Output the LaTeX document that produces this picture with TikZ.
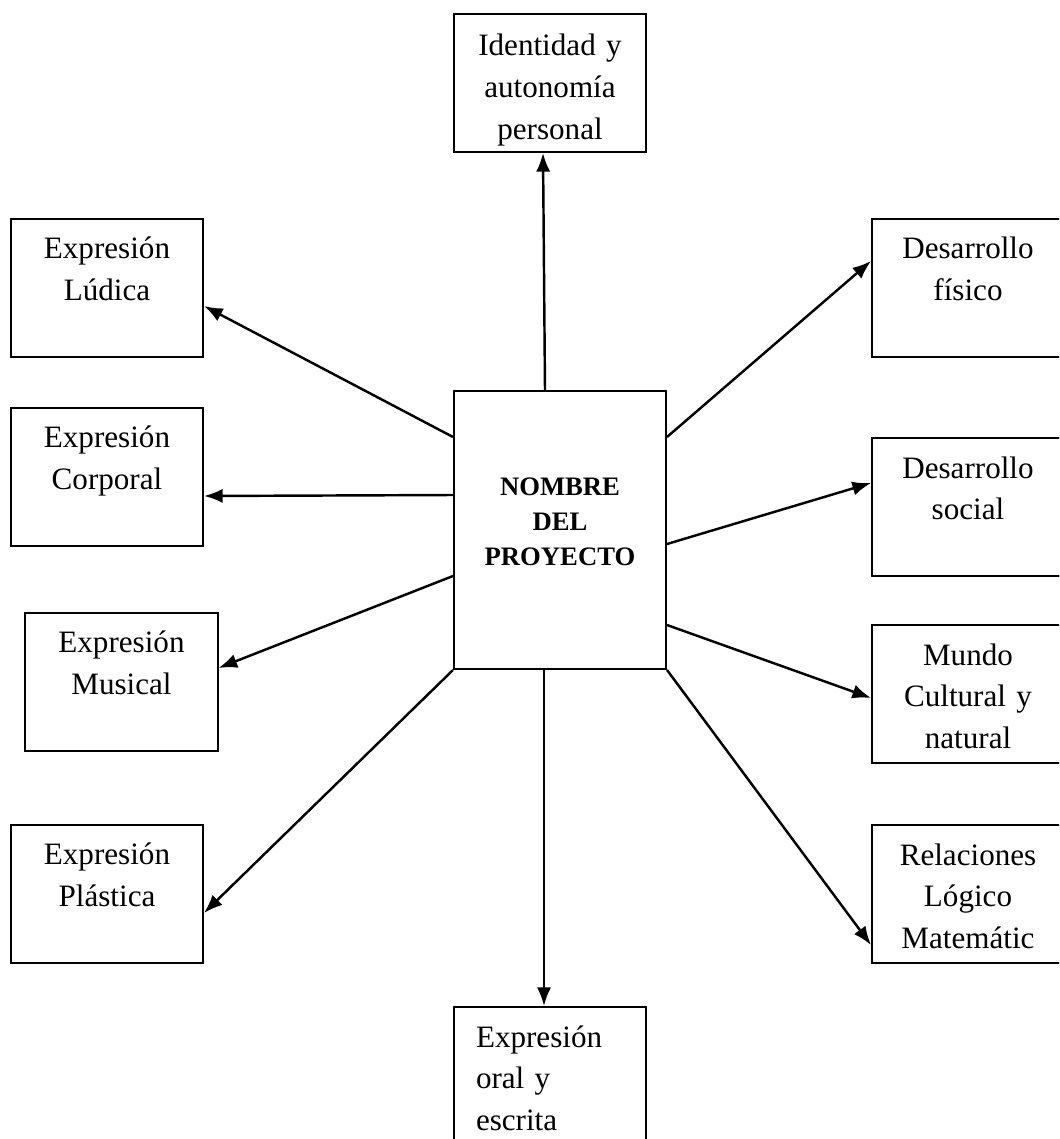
\documentclass[tikz,border=0pt]{standalone}
\usepackage{fontspec}
\setmainfont{Liberation Serif}
\usetikzlibrary{arrows.meta,calc}

\begin{document}
\begin{tikzpicture}[x=0.45pt, y=-0.45pt]
\tikzset{
    area/.style={draw, line width=0.9pt, inner sep=0pt, align=center,
      text width=86.4pt, text height=18pt, text depth=44.1pt,
      font=\fontsize{14}{18.8}\selectfont},
    hubbox/.style={draw, line width=0.9pt, inner sep=0pt, align=center,
      text width=95.4pt, text height=46.8pt, text depth=78.3pt,
      font=\fontsize{12}{15.75}\selectfont\bfseries},
    link/.style={-{Latex[length=8.4pt, width=6.4pt]}, line width=1.1pt}
}
\useasboundingbox (0,0) rectangle (1059,1139);
\clip (0,0) rectangle (1059,1139);
  % centre
\node[hubbox] (hub) at (560,530) {NOMBRE\\DEL\\PROYECTO};
  % top and bottom
\node[area, text height=18.9pt, text depth=43.2pt] (ident) at (550,83) {Identidad y\\autonomía\\personal};
\node[area, align=left, inner xsep=9.9pt, text width=66.6pt, text depth=72pt] (oral) at (550,1107) {Expresión\\oral y\\escrita};
  % left column
\node[area] (ludica) at (107,288) {Expresión\\Lúdica};
\node[area] (corporal) at (107,476.5) {Expresión\\Corporal};
\node[area] (musical) at (121.5,681.5) {Expresión\\Musical};
\node[area] (plastica) at (107,893.5) {Expresión\\Plástica};
  % right column
\node[area] (fisico) at (968,288) {Desarrollo\\físico};
\node[area] (social) at (968,507) {Desarrollo\\social};
\node[area] (mundo) at (968,694) {Mundo\\Cultural y\\natural};
\node[area] (relaciones) at (968,894) {Relaciones\\Lógico\\Matemátic};
% arrows
\draw[link] ($(hub.north)+(-15,0)$) -- ($(ident.south)+(-7,0)$);
\draw[link] ($(hub.south)+(-16,0)$) -- ($(oral.north)+(-6,0)$);
\draw[link] ($(hub.north west)+(0,47)$) -- ($(ludica.east)+(0,18)$);
\draw[link] ($(hub.north west)+(0,105)$) -- ($(corporal.east)+(0,19.5)$);
\draw[link] ($(hub.north west)+(0,186)$) -- ($(musical.east)+(0,-13.5)$);
\draw[link] (hub.south west) -- ($(plastica.east)+(0,19.5)$);
\draw[link] ($(hub.north east)+(0,47)$) -- ($(fisico.west)+(0,-27)$);
\draw[link] ($(hub.north east)+(0,154)$) -- ($(social.west)+(0,-24)$);
\draw[link] ($(hub.north east)+(0,235)$) -- ($(mundo.west)+(0,4)$);
\draw[link] (hub.south east) -- ($(relaciones.west)+(0,51)$);
\end{tikzpicture}
\end{document}
